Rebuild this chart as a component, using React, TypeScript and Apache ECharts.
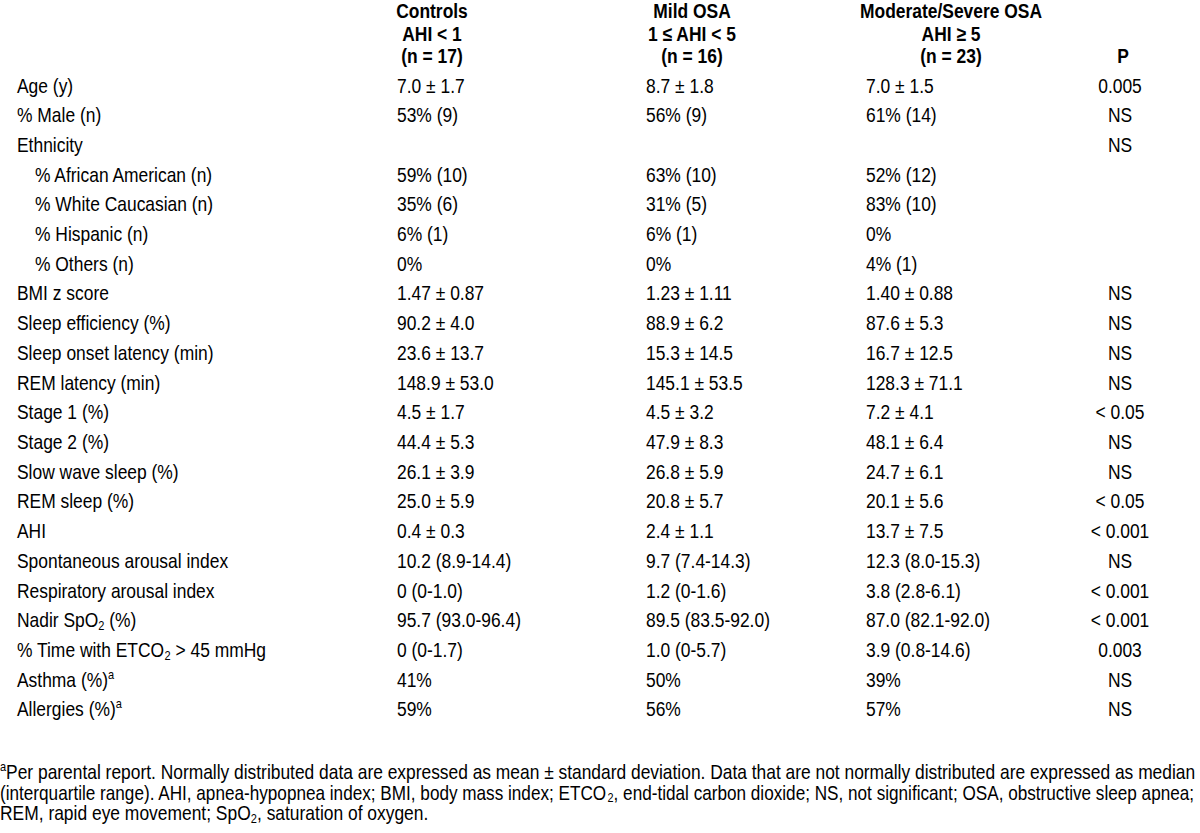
import React, { useEffect, useRef } from "react";
import * as echarts from "echarts";

const headerCols = [
  ["Controls", "AHI < 1", "(n = 17)"],
  ["Mild OSA", "1 ≤ AHI < 5", "(n = 16)"],
  ["Moderate/Severe OSA", "AHI ≥ 5", "(n = 23)"],
  ["", "", "P"],
];

const rowLabels = [
  "Age (y)",
  "% Male (n)",
  "Ethnicity",
  "% African American (n)",
  "% White Caucasian (n)",
  "% Hispanic (n)",
  "% Others (n)",
  "BMI z score",
  "Sleep efficiency (%)",
  "Sleep onset latency (min)",
  "REM latency (min)",
  "Stage 1 (%)",
  "Stage 2 (%)",
  "Slow wave sleep (%)",
  "REM sleep (%)",
  "AHI",
  "Spontaneous arousal index",
  "Respiratory arousal index",
  "Nadir SpO_2 (%)",
  "% Time with ETCO_2 > 45 mmHg",
  "Asthma (%)^a",
  "Allergies (%)^a",
];

const indented = [false, false, false, true, true, true, true, false, false, false, false, false, false, false, false, false, false, false, false, false, false, false];

const controls = [
  "7.0 ± 1.7", "53% (9)", "", "59% (10)", "35% (6)", "6% (1)", "0%", "1.47 ± 0.87", "90.2 ± 4.0",
  "23.6 ± 13.7", "148.9 ± 53.0", "4.5 ± 1.7", "44.4 ± 5.3", "26.1 ± 3.9", "25.0 ± 5.9", "0.4 ± 0.3",
  "10.2 (8.9-14.4)", "0 (0-1.0)", "95.7 (93.0-96.4)", "0 (0-1.7)", "41%", "59%",
];

const mildOSA = [
  "8.7 ± 1.8", "56% (9)", "", "63% (10)", "31% (5)", "6% (1)", "0%", "1.23 ± 1.11", "88.9 ± 6.2",
  "15.3 ± 14.5", "145.1 ± 53.5", "4.5 ± 3.2", "47.9 ± 8.3", "26.8 ± 5.9", "20.8 ± 5.7", "2.4 ± 1.1",
  "9.7 (7.4-14.3)", "1.2 (0-1.6)", "89.5 (83.5-92.0)", "1.0 (0-5.7)", "50%", "56%",
];

const severeOSA = [
  "7.0 ± 1.5", "61% (14)", "", "52% (12)", "83% (10)", "0%", "4% (1)", "1.40 ± 0.88", "87.6 ± 5.3",
  "16.7 ± 12.5", "128.3 ± 71.1", "7.2 ± 4.1", "48.1 ± 6.4", "24.7 ± 6.1", "20.1 ± 5.6", "13.7 ± 7.5",
  "12.3 (8.0-15.3)", "3.8 (2.8-6.1)", "87.0 (82.1-92.0)", "3.9 (0.8-14.6)", "39%", "57%",
];

const pValues = [
  "0.005", "NS", "NS", "", "", "", "", "NS", "NS", "NS", "NS", "< 0.05", "NS", "NS", "< 0.05",
  "< 0.001", "NS", "< 0.001", "< 0.001", "0.003", "NS", "NS",
];

const footnoteLines = [
  "^aPer parental report. Normally distributed data are expressed as mean ± standard deviation. Data that are not normally distributed are expressed as median",
  "(interquartile range). AHI, apnea-hypopnea index; BMI, body mass index; ETCO_2, end-tidal carbon dioxide; NS, not significant; OSA, obstructive sleep apnea;",
  "REM, rapid eye movement; SpO_2, saturation of oxygen.",
];
const footnoteJustified = [true, true, false];

const FONT = "'Liberation Sans', Arial, sans-serif";
const FS = 20.5;
const SUBFS = 13;
const SX = 0.85;

function markup(s: string) {
  return s.replace(/_2/g, "{sub|2}").replace(/\^a/g, "{sup|a}");
}

const rich = {
  sub: { fontSize: SUBFS, lineHeight: 13, verticalAlign: "bottom", fontFamily: FONT, fill: "#000" },
  sup: { fontSize: SUBFS, lineHeight: 13, verticalAlign: "top", fontFamily: FONT, fill: "#000" },
};

function measure(s: string): number {
  const c = document.createElement("canvas").getContext("2d");
  if (!c) return 0;
  const parts = s.split(/(_2|\^a)/);
  let w = 0;
  for (const p of parts) {
    if (p === "_2" || p === "^a") {
      c.font = `${SUBFS}px ${FONT}`;
      w += c.measureText(p.slice(1)).width;
    } else if (p) {
      c.font = `${FS}px ${FONT}`;
      w += c.measureText(p).width;
    }
  }
  return w;
}

function txt(text: string, x: number, y: number, align: string, bold = false, sx = SX) {
  return {
    type: "text",
    silent: true,
    x,
    y,
    scaleX: sx,
    style: {
      text: markup(text),
      x: 0,
      y: 0,
      align,
      verticalAlign: "middle",
      fontSize: FS,
      lineHeight: 24,
      fontFamily: FONT,
      fontWeight: bold ? "bold" : "normal",
      fill: "#000",
      rich,
    },
  };
}

export default function App() {
  const ref = useRef<HTMLDivElement>(null);
  useEffect(() => {
    if (!ref.current) return;
    const chart = echarts.init(ref.current, null, { renderer: "svg" });
    const els: any[] = [];
    const headerX = [432, 692, 951, 1123];
    const headerY = [11, 33.5, 56];
    headerCols.forEach((col, c) =>
      col.forEach((t, r) => {
        if (t) els.push(txt(t, headerX[c], headerY[r], "center", true));
      })
    );
    const y0 = 85.5;
    const dy = 29.71;
    const colX = [397, 646, 866];
    rowLabels.forEach((lab, i) => {
      const y = y0 + i * dy;
      els.push(txt(lab, indented[i] ? 35 : 17, y, "left"));
      [controls, mildOSA, severeOSA].forEach((arr, c) => {
        if (arr[i]) els.push(txt(arr[i], colX[c], y, "left"));
      });
      if (pValues[i]) els.push(txt(pValues[i], 1120, y, "center"));
    });
    const targetW = 1195;
    footnoteLines.forEach((l, i) => {
      let sx = SX;
      if (footnoteJustified[i]) {
        const w = measure(l);
        if (w > 0) sx = targetW / w;
      }
      els.push(txt(l, 0, 772 + i * 20.5, "left", false, sx));
    });
    chart.setOption({ animation: false, backgroundColor: "#fff", graphic: { elements: els } });
    return () => chart.dispose();
  }, []);
  return (
    <div
      ref={ref}
      style={{ position: "fixed", left: 0, top: 0, width: 1200, height: 833, background: "#fff" }}
    />
  );
}
